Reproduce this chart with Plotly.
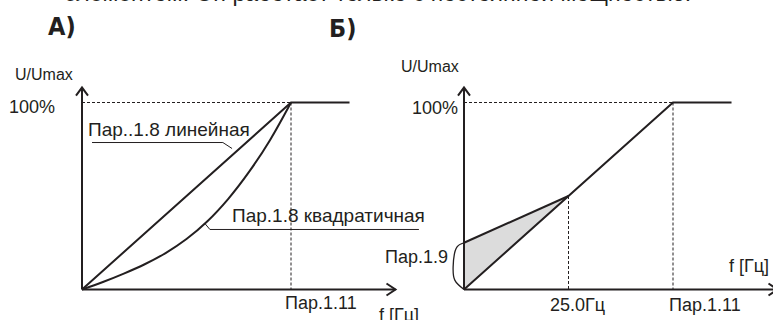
import plotly.graph_objects as go

W, H = 773, 320
INK = "#231f20"
FONT = "Liberation Sans, Arial, sans-serif"

# frequency in Гц (Пар.1.11 = 50 Гц), voltage in % of Umax
f_nom = 50
f_boost_end = 25
f_flat_end = 64
f_axis_end = 75
u_max = 100
u_boost = 25
u_axis_end = 108

# А) linear and quadratic U/f curves
lin_f = [0, f_nom, f_flat_end]
lin_u = [0, u_max, u_max]
quad_f = [0, 5, 10, 15, 20, 25, 30, 35, 40, 45, 50]
quad_u = [0, 4, 8.5, 13.5, 19.5, 27, 36.5, 48.5, 63, 80, 100]

# Б) linear U/f with start boost (Пар.1.9)
main_f = [0, f_nom, f_flat_end]
main_u = [0, u_max, u_max]
boost_f = [0, f_boost_end]
boost_u = [u_boost, 50]
brace_f = [0, -1.7, -2.6, -2.2, 0]
brace_u = [u_boost, 22.7, 12, 5, 0]

# pixel scale of both panels
px_f, px_u = 4.18, 1.87
x0_left, x0_right, y0 = 82, 464, 289.5

fig = go.Figure()


def line(xs, ys, xa, width=2, dash=None, shape="linear", color=INK):
    fig.add_trace(go.Scatter(
        x=xs, y=ys, xaxis=xa, yaxis="y", mode="lines",
        line=dict(color=color, width=width, dash=dash, shape=shape),
        hoverinfo="skip", showlegend=False))


def axes(xa):
    # axis lines with open arrow heads
    line([0, 0], [0, u_axis_end], xa)
    line([-6 / px_f, 0, 6 / px_f],
         [u_axis_end - 8 / px_u, u_axis_end, u_axis_end - 8 / px_u], xa)
    line([0, f_axis_end], [0, 0], xa)
    line([f_axis_end - 9 / px_f, f_axis_end, f_axis_end - 9 / px_f],
         [6 / px_u, 0, -6 / px_u], xa)
    # guide lines
    line([0, f_nom], [u_max, u_max], xa, width=1, dash="3px,2px")
    line([f_nom, f_nom], [u_max, 0], xa, width=1, dash="3px,2px")


# ---- panel А
axes("x")
line(lin_f, lin_u, "x")
line(quad_f, quad_u, "x", shape="spline")
# label leaders
line([2.4, 33.7, 35.9], [78.6, 78.6, 75.4], "x", width=1)
line([29.4, 30.6, 80.6], [35.3, 32.1, 32.1], "x", width=1)

# ---- panel Б
fig.add_trace(go.Scatter(
    x=[0, 0, f_boost_end, 0], y=[0, u_boost, 50, 0], xaxis="x2", yaxis="y",
    mode="lines", fill="toself", fillcolor="#dcdcdc",
    line=dict(width=0), hoverinfo="skip", showlegend=False))
axes("x2")
line([f_boost_end, f_boost_end], [50, 0], "x2", width=1, dash="3px,2px")
line(main_f, main_u, "x2")
line(boost_f, boost_u, "x2")
line(brace_f, brace_u, "x2", width=1.3, shape="spline")


def label(text, x, y, xa, anchor="left", size=18):
    fig.add_annotation(text=text, x=x, y=y, xref=xa, yref="y",
                       xanchor=anchor, yanchor="middle", showarrow=False,
                       font=dict(family=FONT, size=size, color=INK))


label("U/Umax", -9.1, 115.2, "x", "center", 16)
label("100%", -6, 97.6, "x", "right")
label("Пар..1.8 линейная", 1, 85.8, "x", size=19)
label("Пар.1.8 квадратичная", 35.4, 39.8, "x", size=19)
label("Пар.1.11", 48.1, -7.2, "x")
label("f [Гц]", 70.6, -13.6, "x")

label("U/Umax", -8.1, 119, "x2", "center", 16)
label("100%", -1, 97, "x2", "right")
label("Пар.1.9", -3.3, 17.4, "x2", "right")
label("25.0Гц", 20.1, -8.3, "x2")
label("Пар.1.11", 48.6, -8.3, "x2")
label("f [Гц]", 62.9, 12.6, "x2")

# panel titles and the cut-off text line above
for text, px, py in [("А)", 62, 26), ("Б)", 342, 28)]:
    fig.add_annotation(text="<b>" + text + "</b>", x=px / W, y=1 - py / H,
                       xref="paper", yref="paper", showarrow=False,
                       xanchor="center", yanchor="middle",
                       font=dict(family="DejaVu Sans Condensed, Liberation Sans Narrow, sans-serif",
                                 size=25, color=INK))
fig.add_annotation(text="элементом. Он работает только с постоянной мощностью.",
                   x=693 / W, y=1 - 8 / H, xref="paper", yref="paper",
                   xanchor="right", yanchor="bottom", showarrow=False,
                   font=dict(family=FONT, size=23, color=INK))

hidden = dict(visible=False, domain=[0, 1])
fig.update_layout(
    width=W, height=H,
    margin=dict(l=0, r=0, t=0, b=0),
    plot_bgcolor="white", paper_bgcolor="white",
    xaxis=dict(hidden, range=[-x0_left / px_f, (W - x0_left) / px_f]),
    xaxis2=dict(hidden, range=[-x0_right / px_f, (W - x0_right) / px_f],
                overlaying="x"),
    yaxis=dict(hidden, range=[-(H - y0) / px_u, y0 / px_u]),
)

# the page body margin would shift the figure by 8px
fig.write_html("out.html", config={"displayModeBar": False},
               post_script="document.body.style.margin='0';")
